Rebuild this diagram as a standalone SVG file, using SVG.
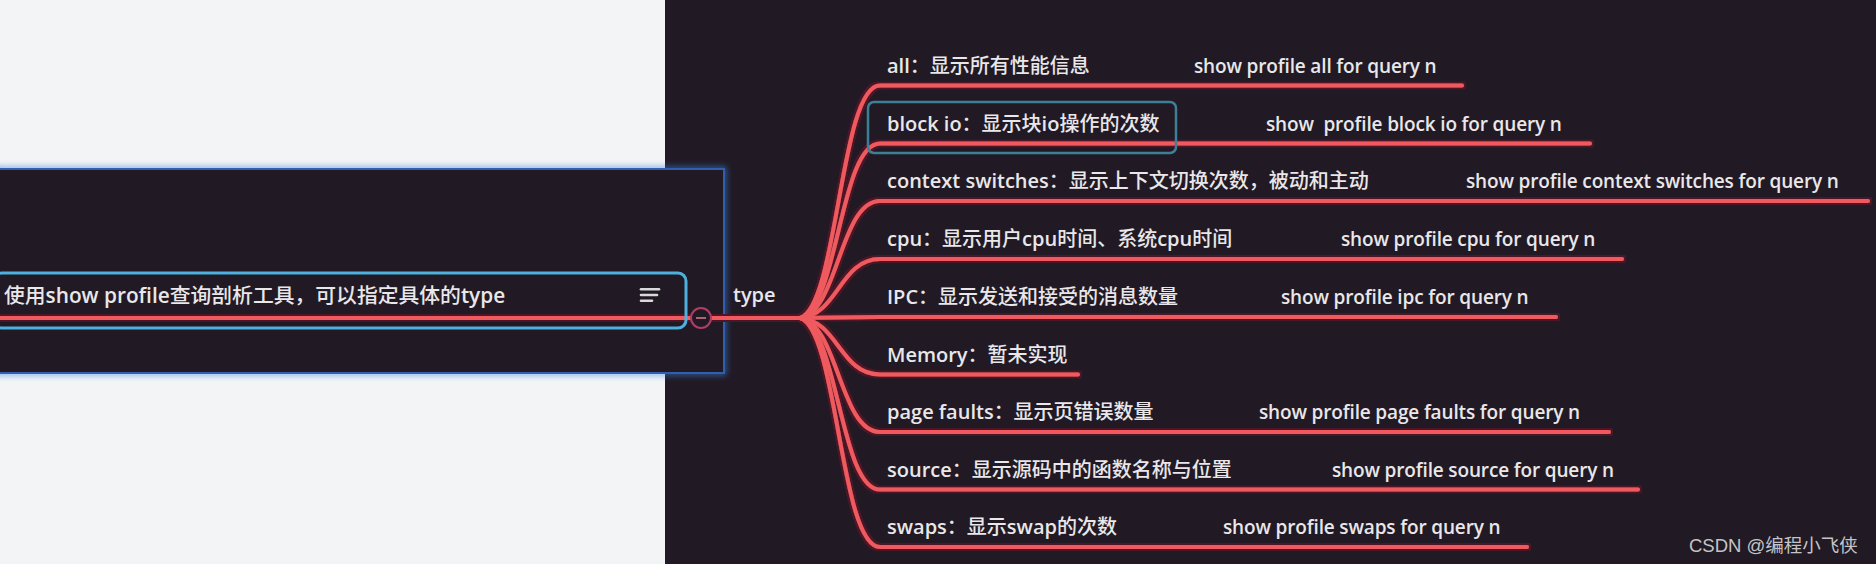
<svg xmlns="http://www.w3.org/2000/svg" width="1876" height="564" viewBox="0 0 1876 564">
<defs>
<style>
.t{font-family:"Open Sans","Noto Sans CJK SC",sans-serif;font-size:20px;fill:#e9e7ea;font-weight:600;white-space:pre}
.k{font-weight:500}
.c{font-size:19px;letter-spacing:-0.15px}
.big{font-size:20.8px}
.red{fill:none;stroke:#ef5a5f;stroke-width:4;stroke-linecap:round}
.icon{stroke:#d9d9d9;stroke-width:2.6;stroke-linecap:round}
</style>
<filter id="blur" x="-10%" y="-10%" width="120%" height="120%"><feGaussianBlur stdDeviation="3"/></filter>
<filter id="edge" x="-5%" y="-5%" width="110%" height="110%">
<feMorphology in="SourceAlpha" operator="dilate" radius="1.6" result="d"/>
<feFlood flood-color="#4d1626"/>
<feComposite in2="d" operator="in" result="o"/>
<feMerge><feMergeNode in="o"/><feMergeNode in="SourceGraphic"/></feMerge>
</filter>
</defs>
<rect width="1876" height="564" fill="#211a24"/>
<rect x="0" y="0" width="665" height="564" fill="#f3f4f6"/>

<g id="panel">
<rect x="-4" y="169" width="728" height="204" fill="none" stroke="#3b7fe0" stroke-width="4" filter="url(#blur)" opacity="0.8"/>
<rect x="-4" y="169" width="728" height="204" fill="#211a24" stroke="#2f5fae" stroke-width="2"/>
</g>

<g id="connectors" filter="url(#edge)">
<path class="red" d="M-4,318 H690"/>
<path class="red" d="M711,318 H800"/>
<path class="red" d="M800,318 C838,306.4 840,85.5 880,85.5 H1462"/>
<path class="red" d="M800,318 C838,309.3 840,143.5 880,143.5 H1590"/>
<path class="red" d="M800,318 C838,312.2 840,201 880,201 H1868"/>
<path class="red" d="M800,318 C838,315 840,259 880,259 H1622"/>
<path class="red" d="M800,318 C838,318 840,317 880,317 H1556"/>
<path class="red" d="M800,318 C838,320.8 840,374.5 880,374.5 H1078"/>
<path class="red" d="M800,318 C838,323.7 840,432 880,432 H1609"/>
<path class="red" d="M800,318 C838,326.6 840,489.5 880,489.5 H1638"/>
<path class="red" d="M800,318 C838,329.5 840,547 880,547 H1527"/>
</g>

<g id="n-root">
<rect x="-6" y="273" width="692" height="55" rx="8" fill="none" stroke="#4eb0dc" stroke-width="3"/>
<text class="t big" x="4" y="303"><tspan class="k">使用</tspan>show profile<tspan class="k">查询剖析工具，可以指定具体的</tspan>type</text>
<line class="icon" x1="641" y1="289.3" x2="659" y2="289.3"/>
<line class="icon" x1="641" y1="295" x2="657" y2="295"/>
<line class="icon" x1="641" y1="300.7" x2="652" y2="300.7"/>
<circle cx="701" cy="318" r="10" fill="#211a24" stroke="#b23c68" stroke-width="2"/>
<line x1="696" y1="318" x2="706" y2="318" stroke="#b8707f" stroke-width="1.8"/>
</g>

<g id="n-type">
<text class="t" x="733" y="302">type</text>
</g>

<g id="n-all">
<text class="t" x="887" y="72.5">all<tspan class="k">：显示所有性能信息</tspan></text>
<text class="t c" x="1194" y="72.5">show profile all for query n</text>
</g>
<g id="n-blockio">
<rect x="868" y="102" width="308" height="51" rx="6" fill="none" stroke="#3d7f96" stroke-width="2.5"/>
<text class="t" x="887" y="130.5">block io<tspan class="k">：显示块</tspan>io<tspan class="k">操作的次数</tspan></text>
<text class="t c" x="1266" y="130.5">show  profile block io for query n</text>
</g>
<g id="n-context">
<text class="t" x="887" y="188">context switches<tspan class="k">：显示上下文切换次数，被动和主动</tspan></text>
<text class="t c" x="1466" y="188">show profile context switches for query n</text>
</g>
<g id="n-cpu">
<text class="t" x="887" y="246">cpu<tspan class="k">：显示用户</tspan>cpu<tspan class="k">时间、系统</tspan>cpu<tspan class="k">时间</tspan></text>
<text class="t c" x="1341" y="246">show profile cpu for query n</text>
</g>
<g id="n-ipc">
<text class="t" x="887" y="304">IPC<tspan class="k">：显示发送和接受的消息数量</tspan></text>
<text class="t c" x="1281" y="304">show profile ipc for query n</text>
</g>
<g id="n-memory">
<text class="t" x="887" y="361.5">Memory<tspan class="k">：暂未实现</tspan></text>
</g>
<g id="n-pagefaults">
<text class="t" x="887" y="419">page faults<tspan class="k">：显示页错误数量</tspan></text>
<text class="t c" x="1259" y="419">show profile page faults for query n</text>
</g>
<g id="n-source">
<text class="t" x="887" y="476.5">source<tspan class="k">：显示源码中的函数名称与位置</tspan></text>
<text class="t c" x="1332" y="476.5">show profile source for query n</text>
</g>
<g id="n-swaps">
<text class="t" x="887" y="534">swaps<tspan class="k">：显示</tspan>swap<tspan class="k">的次数</tspan></text>
<text class="t c" x="1223" y="534">show profile swaps for query n</text>
</g>

<text x="1689" y="552" font-family="Liberation Sans, Noto Sans CJK SC, sans-serif" font-size="18.5" fill="#c4c4c6">CSDN @编程小飞侠</text>
</svg>
